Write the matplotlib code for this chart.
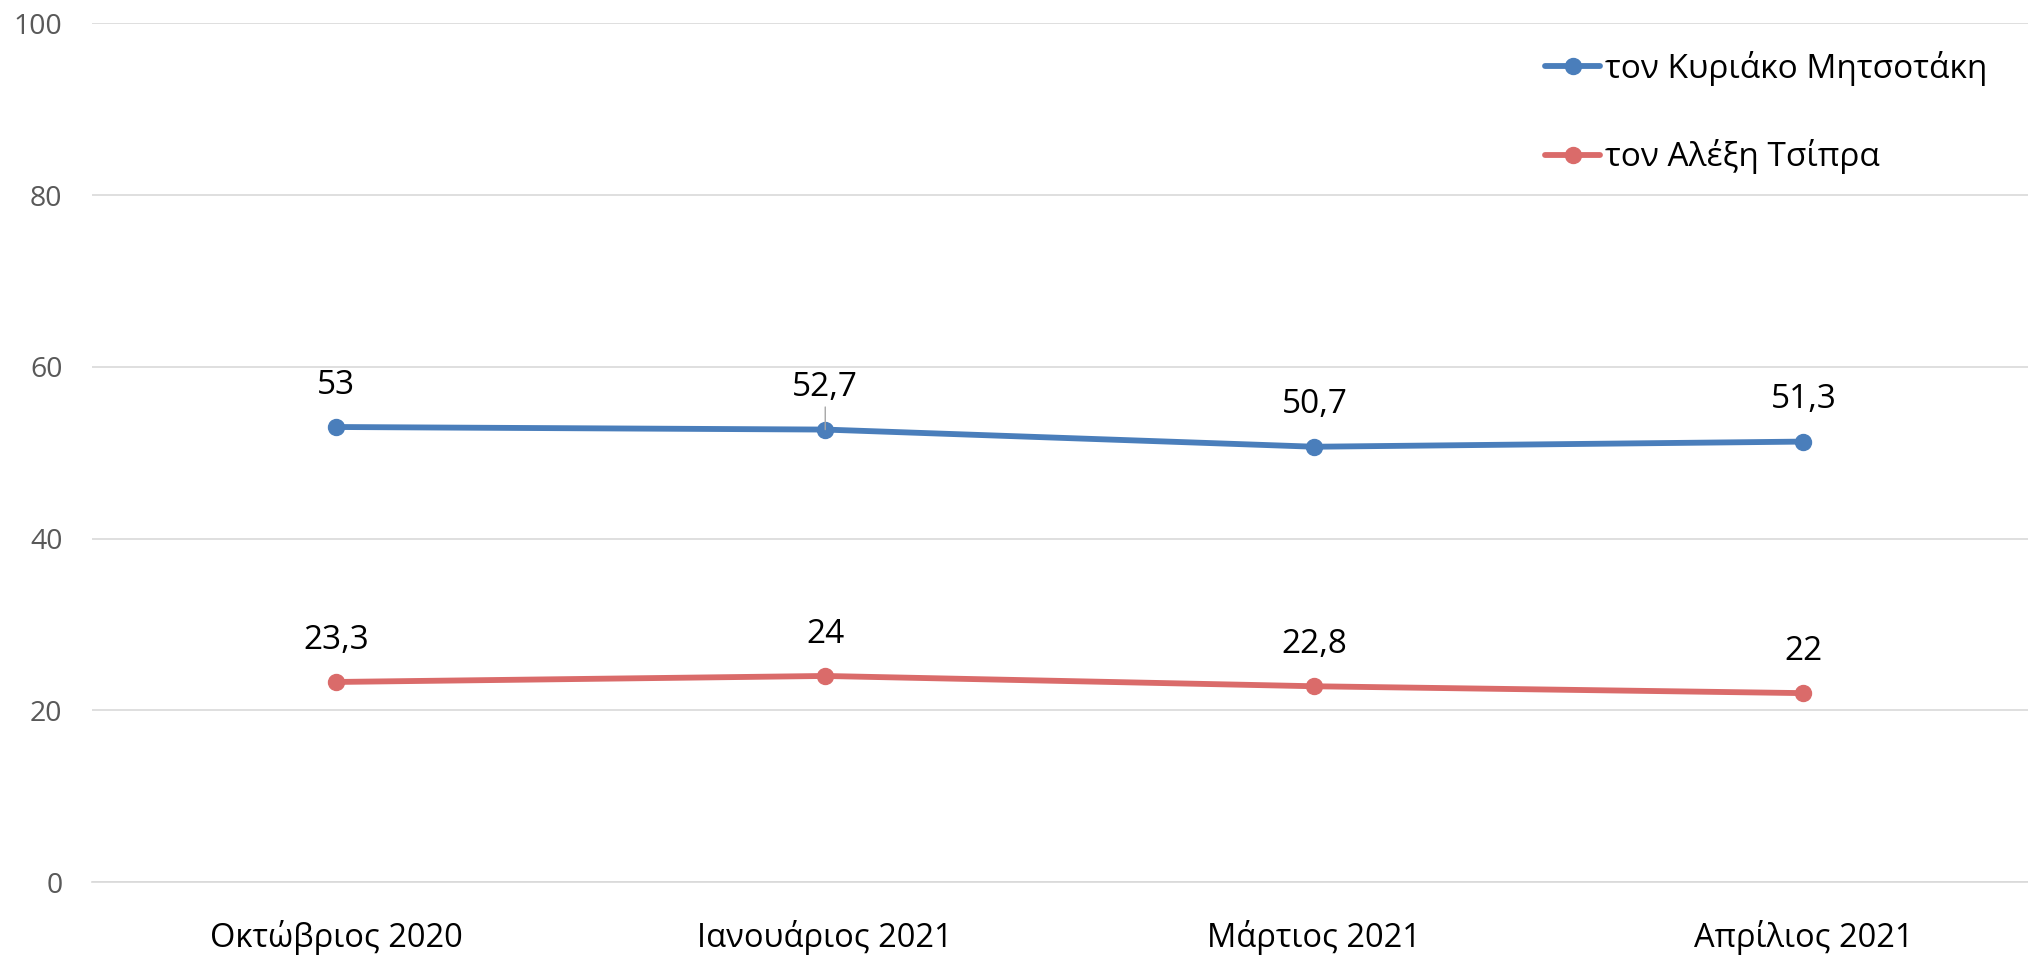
import matplotlib
matplotlib.use("Agg")
import matplotlib.pyplot as plt

categories = ["Οκτώβριος 2020", "Ιανουάριος 2021", "Μάρτιος 2021", "Απρίλιος 2021"]
mitsotakis = [53, 52.7, 50.7, 51.3]
tsipras = [23.3, 24, 22.8, 22]
series_names = ["τον Κυριάκο Μητσοτάκη", "τον Αλέξη Τσίπρα"]
yticks = [0, 20, 40, 60, 80, 100]

plt.rcParams['font.family'] = ['Open Sans', 'DejaVu Sans']

W, H = 2028, 955
fig = plt.figure(figsize=(W / 100, H / 100), dpi=100)
left_px, right_px = 91.6, 2048.0
top_px, bot_px = 23.5, 882.0
ax = fig.add_axes([left_px / W, 1 - bot_px / H, (right_px - left_px) / W, (bot_px - top_px) / H])

blue = '#4A7EBB'
red = '#DA6B6A'
x = list(range(len(categories)))

ax.plot(x, mitsotakis, color=blue, lw=4.2, marker='o', ms=11.5, label=series_names[0],
        solid_capstyle='round', zorder=3)
ax.plot(x, tsipras, color=red, lw=4.2, marker='o', ms=11.5, label=series_names[1],
        solid_capstyle='round', zorder=3)

def fmt(v):
    return ('%g' % v).replace('.', ',')

for series in (mitsotakis, tsipras):
    for i, v in enumerate(series):
        if series is mitsotakis and i == 1:
            ax.annotate(fmt(v), xy=(i, v), xytext=(0, 24), textcoords='offset points',
                        ha='center', va='baseline', fontsize=24, color='black',
                        arrowprops=dict(arrowstyle='-', color='#a6a6a6', lw=1.0,
                                        shrinkA=0, shrinkB=0,
                                        relpos=(0.5, 0.0)))
        else:
            ax.annotate(fmt(v), xy=(i, v), xytext=(0, 24), textcoords='offset points',
                        ha='center', va='baseline', fontsize=24, color='black')

ax.set_xlim(-0.5, len(categories) - 0.5)
ax.set_ylim(0, 100)
ax.set_yticks(yticks)
ax.set_yticklabels([str(t) for t in yticks])
ax.set_xticks(x)
ax.set_xticklabels(categories)
ax.tick_params(axis='y', length=0, pad=21, labelsize=20.5, labelcolor='#595959')
ax.tick_params(axis='x', length=0, pad=27, labelsize=23.5, labelcolor='black')
ax.grid(axis='y', color='#d9d9d9', lw=1.2)
ax.set_axisbelow(True)
for s in ['top', 'right', 'left']:
    ax.spines[s].set_visible(False)
ax.spines['bottom'].set_color('#d9d9d9')
ax.spines['bottom'].set_linewidth(1.2)

leg = fig.legend(loc='upper left', bbox_to_anchor=(1545 / W, 1 - 51 / H), frameon=False,
                 fontsize=24, handlelength=1.65, handletextpad=0.15, labelspacing=1.6,
                 borderpad=0, borderaxespad=0)

fig.savefig('out.png', dpi=100, facecolor='white')
